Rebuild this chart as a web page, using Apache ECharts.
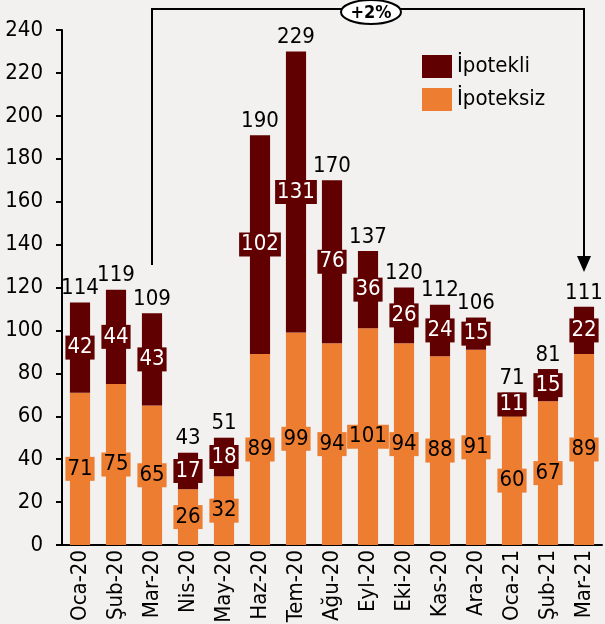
<!DOCTYPE html>
<html>
<head>
<meta charset="utf-8">
<script src="https://cdn.jsdelivr.net/npm/echarts@6/dist/echarts.min.js"></script>
<style>
  html, body { margin: 0; padding: 0; background: #f2f1f0; }
  #main { width: 605px; height: 624px; }
</style>
</head>
<body>
<div id="main"></div>
<script>
// veriler
var categories = ['Oca-20', 'Şub-20', 'Mar-20', 'Nis-20', 'May-20', 'Haz-20', 'Tem-20', 'Ağu-20', 'Eyl-20', 'Eki-20', 'Kas-20', 'Ara-20', 'Oca-21', 'Şub-21', 'Mar-21'];
var ipoteksiz = [71, 75, 65, 26, 32, 89, 99, 94, 101, 94, 88, 91, 60, 67, 89];
var ipotekli = [42, 44, 43, 17, 18, 102, 131, 76, 36, 26, 24, 15, 11, 15, 22];
var totals = [114, 119, 109, 43, 51, 190, 229, 170, 137, 120, 112, 106, 71, 81, 111];
var yTicks = [0, 240, 20];
var changeText = '+2%';

var font = 'DejaVu Sans Condensed';
var fs = 22;
var orange = '#ed7d31';
var darkRed = '#600000';

var myChart = echarts.init(document.getElementById('main'));

var option = {
    backgroundColor: '#f2f1f0',
    animation: false,
    textStyle: { fontFamily: font },
    grid: { left: 62, right: 3, top: 30, bottom: 79, outerBoundsMode: 'none', containLabel: false },
    legend: {
        data: ['İpotekli', 'İpoteksiz'],
        orient: 'vertical',
        left: 417,
        top: 50,
        icon: 'rect',
        itemWidth: 30,
        itemHeight: 23,
        itemGap: 10,
        textStyle: { fontFamily: font, fontSize: fs, color: '#000' }
    },
    xAxis: {
        type: 'category',
        data: categories,
        axisLine: { lineStyle: { color: '#000', width: 2 } },
        axisTick: { show: false },
        axisLabel: { rotate: 90, fontSize: fs, color: '#000', margin: 5, fontFamily: font }
    },
    yAxis: {
        type: 'value',
        min: yTicks[0],
        max: yTicks[1],
        interval: yTicks[2],
        axisLine: { show: true, lineStyle: { color: '#000', width: 2 } },
        axisTick: { show: true, inside: false, length: 6, lineStyle: { color: '#000', width: 2 } },
        axisLabel: { fontSize: fs, color: '#000', margin: 19, fontFamily: font },
        splitLine: { show: false }
    },
    series: [
        {
            name: 'İpoteksiz',
            type: 'bar',
            stack: 'kredi',
            barCategoryGap: '44%',
            itemStyle: { color: orange },
            label: {
                show: true,
                position: 'inside',
                fontSize: fs,
                fontFamily: font,
                color: '#000',
                backgroundColor: orange,
                padding: [2, 2, 0, 2]
            },
            data: ipoteksiz
        },
        {
            name: 'İpotekli',
            type: 'bar',
            stack: 'kredi',
            itemStyle: { color: darkRed },
            label: {
                show: true,
                position: 'inside',
                fontSize: fs,
                fontFamily: font,
                color: '#fff',
                backgroundColor: darkRed,
                padding: [2, 2, 0, 2]
            },
            data: ipotekli
        },
        {
            name: 'Toplam',
            type: 'bar',
            stack: 'kredi',
            itemStyle: { color: 'transparent' },
            label: {
                show: true,
                position: 'top',
                distance: 3,
                fontSize: fs,
                fontFamily: font,
                color: '#000',
                formatter: function (p) { return totals[p.dataIndex]; }
            },
            data: ipotekli.map(function () { return 0; })
        }
    ]
};

myChart.setOption(option);

// Mar-20 -> Mar-21 oku
var p1 = myChart.convertToPixel({ seriesIndex: 0 }, ['Mar-20', 0]);
var p2 = myChart.convertToPixel({ seriesIndex: 0 }, ['Mar-21', 0]);
var topY = 9;
var y1 = 265, y2 = 272;
var midX = (p1[0] + p2[0]) / 2 + 3;
myChart.setOption({
    graphic: [
        {
            type: 'polyline',
            shape: { points: [[p1[0], y1], [p1[0], topY], [p2[0], topY], [p2[0], y2 - 14]] },
            style: { stroke: '#000', lineWidth: 2, fill: null }
        },
        {
            type: 'polygon',
            shape: { points: [[p2[0] - 7, y2 - 16], [p2[0] + 7, y2 - 16], [p2[0], y2]] },
            style: { fill: '#000' }
        },
        {
            type: 'ellipse',
            shape: { cx: midX, cy: 12, rx: 30, ry: 12 },
            style: { fill: '#fff', stroke: '#000', lineWidth: 2 }
        },
        {
            type: 'text',
            x: midX,
            y: 13,
            style: {
                text: changeText,
                fontFamily: font,
                fontSize: 18,
                fontWeight: 'bold',
                fill: '#000',
                align: 'center',
                verticalAlign: 'middle'
            }
        }
    ]
});
</script>
</body>
</html>
